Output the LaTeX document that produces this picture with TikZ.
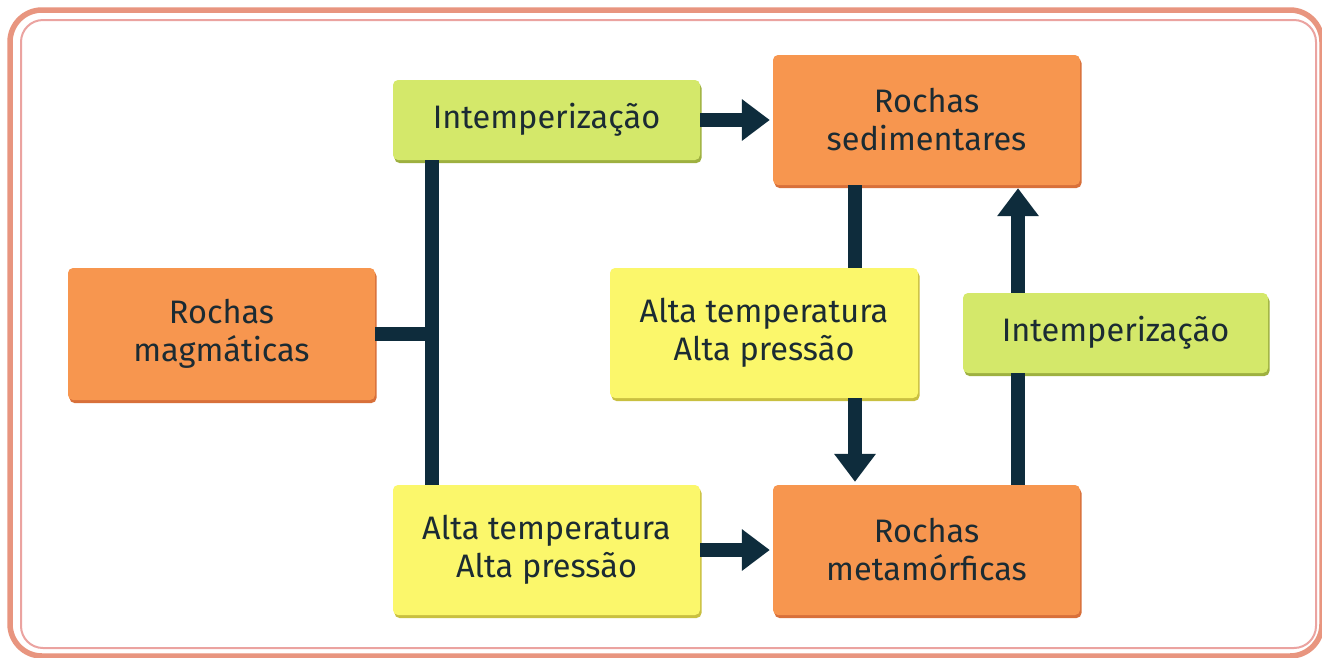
\documentclass[tikz,border=0pt]{standalone}
\usepackage{fontspec}
\setmainfont{Fira Sans}
\usetikzlibrary{arrows.meta,shadows}
\definecolor{navy}{HTML}{0E2C3C}
\definecolor{txt}{HTML}{1B2B33}
\definecolor{orfill}{HTML}{F7964F}
\definecolor{orshad}{HTML}{D8703A}
\definecolor{grfill}{HTML}{D4E86A}
\definecolor{grshad}{HTML}{9EB040}
\definecolor{yefill}{HTML}{FBF76B}
\definecolor{yeshad}{HTML}{C9C040}
\definecolor{frameA}{HTML}{E8957F}
\definecolor{frameB}{HTML}{EBA3A0}
\tikzset{
  boxbase/.style={rounded corners=5pt, align=center, text=txt,
    font=\fontsize{32.5}{38}\selectfont, inner sep=0pt},
  orbox/.style={boxbase, fill=orfill, drop shadow={fill=orshad, shadow xshift=1.5pt, shadow yshift=-3pt, opacity=1}},
  grbox/.style={boxbase, fill=grfill, drop shadow={fill=grshad, shadow xshift=1.5pt, shadow yshift=-3pt, opacity=1}},
  yebox/.style={boxbase, fill=yefill, drop shadow={fill=yeshad, shadow xshift=1.5pt, shadow yshift=-3pt, opacity=1}},
  conn/.style={draw=navy, line width=14pt},
  arr/.style={conn, -{Triangle[width=40pt,length=28pt]}, shorten >=3pt},
}
\begin{document}
\begin{tikzpicture}[x=1pt,y=-1pt]
\useasboundingbox (0,0) rectangle (1322,657);
\clip (0,0) rectangle (1322,657);
\fill[white] (0,0) rectangle (1322,657);
\draw[frameA, line width=5.5pt, rounded corners=32pt] (10,10) rectangle (1322,656);
\draw[frameB, line width=2pt, rounded corners=22pt] (21,20) rectangle (1316,648);

\node[orbox, minimum width=307pt, minimum height=132pt] (mag) at (221.5,334) {Rochas\\magmáticas};
\node[grbox, minimum width=307pt, minimum height=80pt] (int1) at (546.5,120) {Intemperização};
\node[orbox, minimum width=307pt, minimum height=130pt] (sed) at (926.5,120) {Rochas\\sedimentares};
\node[yebox, minimum width=308pt, minimum height=130pt] (alta1) at (764,333) {Alta temperatura\\Alta pressão};
\node[grbox, minimum width=305pt, minimum height=80pt] (int2) at (1115.5,333) {Intemperização};
\node[yebox, minimum width=307pt, minimum height=130pt] (alta2) at (546.5,550) {Alta temperatura\\Alta pressão};
\node[orbox, minimum width=307pt, minimum height=130pt] (met) at (926.5,550) {Rochas\\metamórficas};

\coordinate (j) at (432,334);
\coordinate (c1) at (855,0);
\coordinate (c2) at (1018,0);

\draw[conn] (mag.east) -- (j);
\draw[conn] (int1.south -| j) -- (alta2.north -| j);
\draw[arr] (int1.east) -- (sed.west);
\draw[arr] (alta2.east) -- (met.west);
\draw[conn] (sed.south -| c1) -- (alta1.north -| c1);
\draw[arr] (alta1.south -| c1) -- (met.north -| c1);
\draw[conn] (met.north -| c2) -- (int2.south -| c2);
\draw[arr] (int2.north -| c2) -- (sed.south -| c2);
\end{tikzpicture}
\end{document}
